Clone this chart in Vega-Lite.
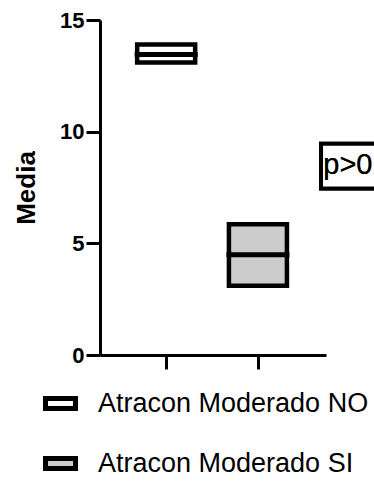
{
  "$schema": "https://vega.github.io/schema/vega-lite/v6.json",
  "autosize": {"type": "none"},
  "width": 226,
  "height": 335,
  "padding": {"left": 100, "top": 20, "right": 48, "bottom": 126},
  "background": "white",
  "config": {
    "view": {"stroke": null},
    "font": "Liberation Sans"
  },
  "data": {
    "values": [
      {"group": "Atracon Moderado NO", "pos": 1, "lo": 13.1, "med": 13.46, "hi": 13.9},
      {"group": "Atracon Moderado SI", "pos": 2, "lo": 3.1, "med": 4.49, "hi": 5.86}
    ]
  },
  "layer": [
    {
      "mark": {"type": "bar", "orient": "vertical", "size": 58, "stroke": "black", "strokeWidth": 4.5},
      "encoding": {
        "x": {
          "field": "pos", "type": "quantitative",
          "scale": {"domain": [0.3333, 2.6875], "nice": false, "zero": false},
          "axis": {
            "title": null, "labels": false, "values": [1, 2], "grid": false,
            "domainColor": "black", "domainWidth": 3, "tickColor": "black", "tickWidth": 3, "tickSize": 14
          }
        },
        "y": {
          "field": "lo", "type": "quantitative",
          "scale": {"domain": [0, 15], "nice": false},
          "axis": {
            "title": "Media", "values": [0, 5, 10, 15], "grid": false,
            "domainColor": "black", "domainWidth": 3, "tickColor": "black", "tickWidth": 3, "tickSize": 14,
            "labelFont": "Liberation Sans", "labelFontSize": 22, "labelFontWeight": "bold", "labelColor": "black", "labelPadding": 2,
            "titleFont": "Liberation Sans", "titleFontSize": 26, "titleFontWeight": "bold", "titleColor": "black", "titlePadding": 20
          }
        },
        "y2": {"field": "hi"},
        "fill": {
          "field": "group", "type": "nominal",
          "scale": {"domain": ["Atracon Moderado NO", "Atracon Moderado SI"], "range": ["#ffffff", "#cccccc"]},
          "legend": {
            "title": null, "orient": "none", "legendX": -57, "legendY": 366, "direction": "vertical",
            "symbolType": "M-1,-0.3333H1V0.3333H-1Z", "symbolSize": 900, "symbolStrokeColor": "black", "symbolStrokeWidth": 5,
            "symbolOpacity": 1, "labelFont": "Liberation Sans", "labelFontSize": 27, "labelColor": "black",
            "labelOffset": 20, "rowPadding": 27, "padding": 0, "labelLimit": 400
          }
        }
      }
    },
    {
      "mark": {"type": "tick", "orient": "horizontal", "size": 63, "thickness": 5, "color": "black", "opacity": 1},
      "encoding": {
        "x": {"field": "pos", "type": "quantitative"},
        "y": {"field": "med", "type": "quantitative"}
      }
    },
    {
      "mark": {"type": "rect", "fill": "white", "stroke": "black", "strokeWidth": 4},
      "encoding": {
        "x": {"datum": 2.688},
        "x2": {"datum": 3.6},
        "y": {"datum": 7.45},
        "y2": {"datum": 9.46}
      }
    },
    {
      "mark": {"type": "text", "text": "p>0.05", "align": "left", "baseline": "alphabetic", "font": "Liberation Sans", "fontSize": 29, "color": "black"},
      "encoding": {
        "x": {"datum": 2.712},
        "y": {"datum": 8.12}
      }
    }
  ]
}
